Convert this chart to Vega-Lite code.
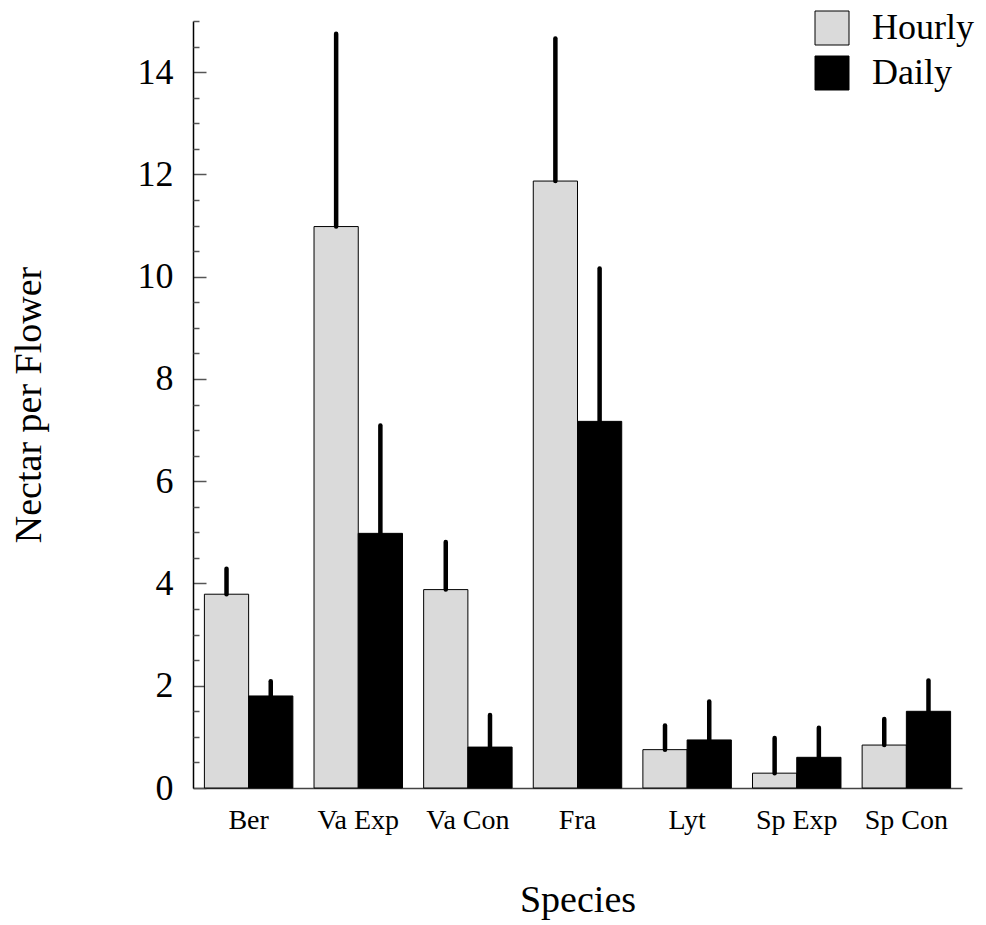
{
  "$schema": "https://vega.github.io/schema/vega-lite/v6.json",
  "autosize": "none",
  "width": 769,
  "height": 767,
  "padding": {"left": 193, "top": 21, "right": 24, "bottom": 137},
  "background": "white",
  "config": {
    "view": {"stroke": null},
    "font": "Liberation Serif"
  },
  "data": {
    "values": [
      {"species": "Ber", "series": "Hourly", "value": 3.79, "upper": 4.29},
      {"species": "Ber", "series": "Daily", "value": 1.8, "upper": 2.09},
      {"species": "Va Exp", "series": "Hourly", "value": 10.98, "upper": 14.75},
      {"species": "Va Exp", "series": "Daily", "value": 4.98, "upper": 7.09},
      {"species": "Va Con", "series": "Hourly", "value": 3.88, "upper": 4.81},
      {"species": "Va Con", "series": "Daily", "value": 0.8, "upper": 1.43},
      {"species": "Fra", "series": "Hourly", "value": 11.87, "upper": 14.66},
      {"species": "Fra", "series": "Daily", "value": 7.17, "upper": 10.16},
      {"species": "Lyt", "series": "Hourly", "value": 0.75, "upper": 1.22},
      {"species": "Lyt", "series": "Daily", "value": 0.94, "upper": 1.69},
      {"species": "Sp Exp", "series": "Hourly", "value": 0.29, "upper": 0.98},
      {"species": "Sp Exp", "series": "Daily", "value": 0.6, "upper": 1.18},
      {"species": "Sp Con", "series": "Hourly", "value": 0.84, "upper": 1.35},
      {"species": "Sp Con", "series": "Daily", "value": 1.5, "upper": 2.1}
    ]
  },
  "encoding": {
    "x": {
      "field": "species",
      "type": "nominal",
      "sort": ["Ber", "Va Exp", "Va Con", "Fra", "Lyt", "Sp Exp", "Sp Con"],
      "scale": {"paddingInner": 0.193, "paddingOuter": 0.104},
      "axis": {
        "title": "Species",
        "titleFont": "Liberation Serif",
        "titleFontSize": 38,
        "titleFontWeight": "normal",
        "titleColor": "black",
        "titlePadding": 47,
        "labelFont": "Liberation Serif",
        "labelFontSize": 28,
        "labelColor": "black",
        "labelAngle": 0,
        "labelPadding": 18,
        "ticks": false,
        "domainColor": "#444444",
        "domainWidth": 1.5
      }
    },
    "xOffset": {
      "field": "series",
      "type": "nominal",
      "sort": ["Hourly", "Daily"],
      "scale": {"paddingInner": 0, "paddingOuter": 0}
    }
  },
  "layer": [
    {
      "mark": {"type": "bar", "stroke": "black", "strokeWidth": 1},
      "encoding": {
        "y": {
          "field": "value",
          "type": "quantitative",
          "scale": {"domain": [0, 15], "nice": false, "zero": true},
          "axis": {
            "orient": "left",
            "title": "Nectar per Flower",
            "titleFont": "Liberation Serif",
            "titleFontSize": 38,
            "titleFontWeight": "normal",
            "titleColor": "black",
            "titlePadding": 89,
            "values": [0, 2, 4, 6, 8, 10, 12, 14],
            "labelFont": "Liberation Serif",
            "labelFontSize": 36,
            "labelColor": "black",
            "tickSize": -13,
            "tickColor": "#555555",
            "tickWidth": 1.5,
            "labelPadding": 33,
            "domainColor": "black",
            "domainWidth": 1.5,
            "grid": false
          }
        },
        "color": {
          "field": "series",
          "type": "nominal",
          "scale": {"domain": ["Hourly", "Daily"], "range": ["#dadada", "#000000"]},
          "legend": {
            "title": null,
            "orient": "none",
            "legendX": 621,
            "legendY": -11,
            "padding": 0,
            "symbolType": "square",
            "symbolSize": 1156,
            "symbolStrokeColor": "black",
            "symbolStrokeWidth": 1,
            "symbolOpacity": 1,
            "labelFont": "Liberation Serif",
            "labelFontSize": 36,
            "labelColor": "black",
            "labelOffset": 22,
            "rowPadding": 7
          }
        }
      }
    },
    {
      "mark": {"type": "rule", "color": "black", "strokeWidth": 4.5, "strokeCap": "round"},
      "encoding": {
        "y": {
          "field": "value",
          "type": "quantitative",
          "axis": {
            "orient": "left",
            "title": null,
            "values": [0.5, 1, 1.5, 2.5, 3, 3.5, 4.5, 5, 5.5, 6.5, 7, 7.5, 8.5, 9, 9.5, 10.5, 11, 11.5, 12.5, 13, 13.5, 14.5, 15],
            "labels": false,
            "domain": false,
            "grid": false,
            "tickSize": -6,
            "tickColor": "#555555",
            "tickWidth": 1.5
          }
        },
        "y2": {"field": "upper"}
      }
    }
  ],
  "resolve": {"axis": {"y": "independent"}}
}
